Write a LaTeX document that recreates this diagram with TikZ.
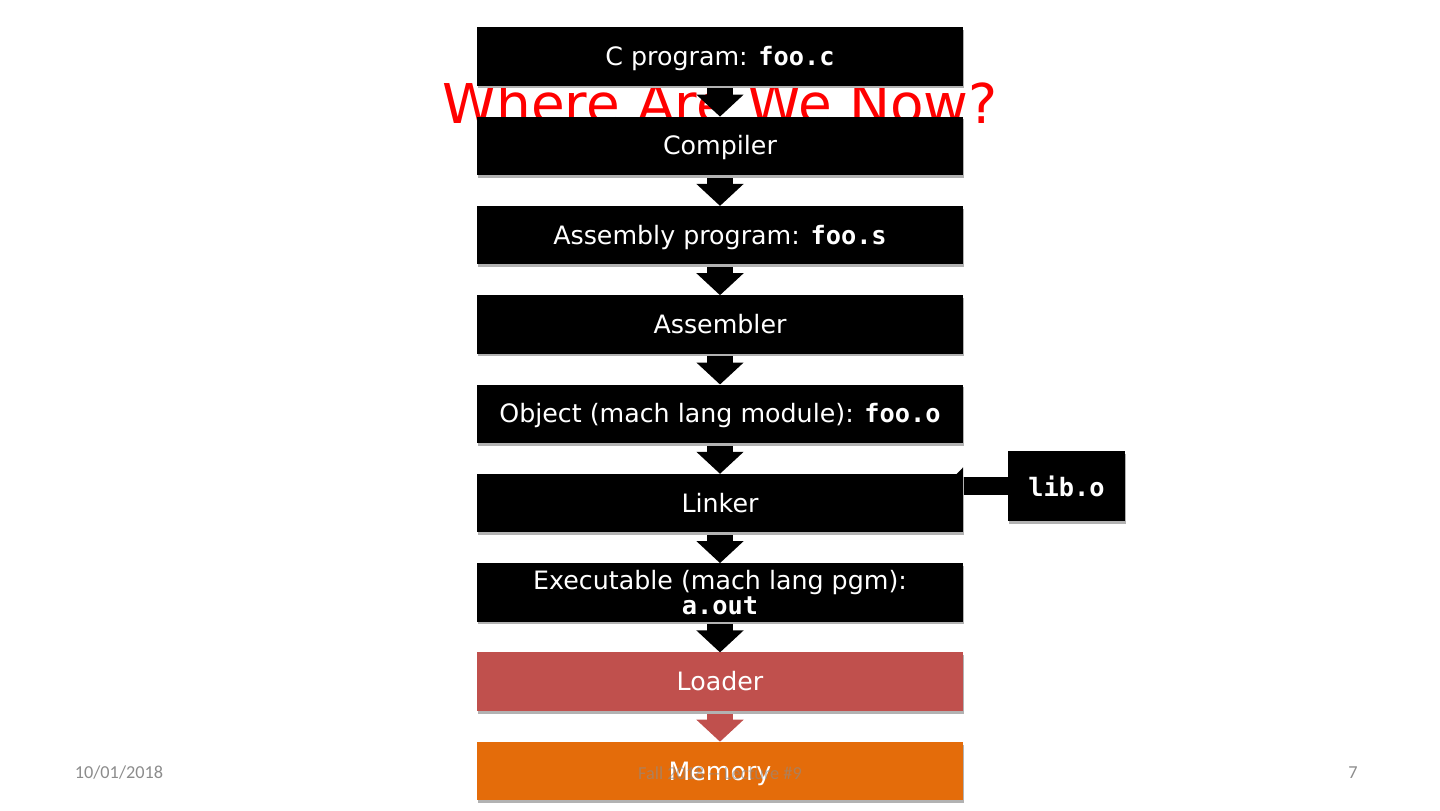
\documentclass[tikz,border=0pt]{standalone}
\usepackage{fontspec}
\setmainfont{DejaVu Sans}
\setmonofont{DejaVu Sans Mono}
\newfontfamily\footfont{Carlito}
\usepackage{tikz}
\usetikzlibrary{arrows.meta,positioning,shadows,backgrounds}
\definecolor{loaderred}{HTML}{C0504D}
\definecolor{memorange}{HTML}{E46C0A}
\definecolor{footgray}{HTML}{8C8C8C}
\newcommand{\code}[1]{\texttt{\bfseries #1}}

\begin{document}
\begin{tikzpicture}[
  node distance=0.7725cm,
  stage/.style={rectangle,fill=black,text=white,minimum width=12.15cm,minimum height=1.46cm,inner sep=2pt,outer sep=0pt,align=center,text height=17pt,text depth=4pt,font=\fontsize{18}{18}\selectfont,drop shadow={shadow xshift=0.02cm,shadow yshift=-0.07cm,fill=gray!60,opacity=1}},
  tworow/.style={text height={},text depth={}},
  libbox/.style={stage,tworow,minimum width=2.925cm,minimum height=1.75cm},
  flow/.style={line width=0.65cm,-{Triangle[width=1.15cm,length=0.55cm]}},
  feed/.style={line width=0.45cm,-{Triangle[width=0.9cm,length=0.45cm]}},
  foot/.style={font=\footfont\fontsize{13}{13}\selectfont,text=footgray}
]
  \useasboundingbox (0,0) rectangle (36,20.25);

  \node[stage] (cprog) at (18,18.8375) {C program: \code{foo.c}};
  \node[stage,below=of cprog] (comp) {Compiler};
  \node[stage,below=of comp] (asmprog) {Assembly program: \code{foo.s}};
  \node[stage,below=of asmprog] (asmblr) {Assembler};
  \node[stage,below=of asmblr] (obj) {Object (mach lang module): \code{foo.o}};
  \node[stage,below=of obj] (linker) {Linker};
  \node[stage,tworow,below=of linker] (exe) {Executable (mach lang pgm):\\\code{a.out}};
  \node[stage,below=of exe,fill=loaderred] (loader) {Loader};
  \node[stage,below=of loader,fill=memorange] (mem) {Memory};

  \node[libbox,right=1.125cm of linker,yshift=0.425cm] (lib) {\code{lib.o}};

  \begin{scope}[on background layer]
    \node[anchor=base,text=red,font=\fontsize{39}{39}\selectfont] (title)
      at ([yshift=-1.6875cm]cprog.center) {Where Are We Now?};
    \draw[flow] (cprog.south) -- (comp.north);
    \draw[flow] (comp.south) -- (asmprog.north);
    \draw[flow] (asmprog.south) -- (asmblr.north);
    \draw[flow] (asmblr.south) -- (obj.north);
    \draw[flow] (obj.south) -- (linker.north);
    \draw[flow] (linker.south) -- (exe.north);
    \draw[flow] (exe.south) -- (loader.north);
    \draw[flow,loaderred] (loader.south) -- (mem.north);
    \draw[feed] (lib.west) -- ([xshift=-0.45cm]lib.west -| linker.east);
  \end{scope}

  % footer
  \node[foot] (date) at (2.975,0.925) {10/01/2018};
  \node[foot,opacity=0.6] (course) at (18,0.925) {Fall 2018 -- Lecture \#9};
  \node[foot] (page) at (33.825,0.925) {7};
\end{tikzpicture}
\end{document}
